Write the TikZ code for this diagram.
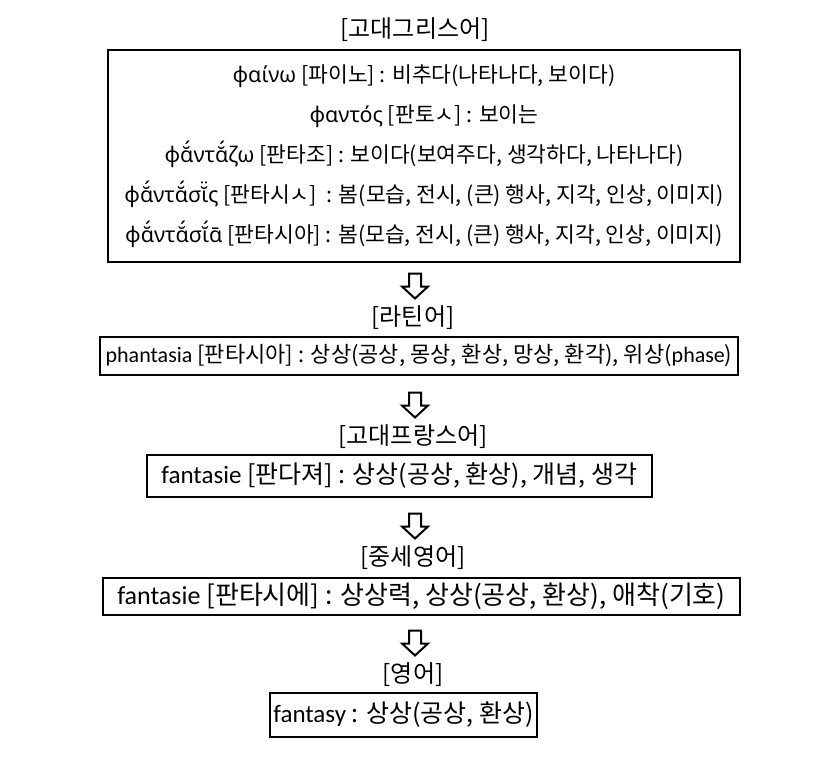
\documentclass[tikz,border=0pt]{standalone}
\usepackage{fontspec}
\setmainfont{Noto Sans CJK KR}
\newfontfamily\la{Carlito}
\newfontfamily\gr{Noto Sans}
\usetikzlibrary{calc,shadows}

\tikzset{
    stage/.style={font=\fontsize{24}{26}\selectfont},
    entry/.style={draw, line width=2.5pt, inner sep=2pt, fill=white,
        drop shadow={shadow xshift=1pt, shadow yshift=-1pt, fill=black!35, opacity=1}},
    blockarrow/.pic={
        \draw[line width=2pt, line join=miter, fill=white]
            (-6,-13) -- (6,-13) -- (6,0) -- (13,0) -- (0,12) -- (-13,0) -- (-6,0) -- cycle;
    }
}

\begin{document}
\begin{tikzpicture}[x=1pt, y=-1pt]
    \useasboundingbox (0,0) rectangle (831,773);

    % Altgriechisch
    \node[stage] (grk) at (415,30) {[고대그리스어]};
    \node[entry, minimum width=632pt, minimum height=212pt, align=center,
          font=\fontsize{21.5}{40}\selectfont] (box1) at (424,156) {%
        {\gr φαίνω} [파이노] : 비추다(나타나다, 보이다)\\
        {\gr φαντός} [판토ㅅ] : 보이는\\
        {\gr φᾰ́ντᾰ́ζω} [판타조] : 보이다(보여주다, 생각하다, 나타나다)\\
        {\gr φᾰ́ντᾰ́σῐ̈ς} [판타시ㅅ]\ \ : 봄(모습, 전시, (큰) 행사, 지각, 인상, 이미지)\\
        {\gr φᾰ́ντᾰ́σῐ́ᾱ} [판타시아] : 봄(모습, 전시, (큰) 행사, 지각, 인상, 이미지)};

    % Latein
    \node[stage] (lat) at (413,318) {[라틴어]};
    \node[entry, minimum width=638pt, minimum height=38pt,
          font=\fontsize{22}{24}\selectfont] (box2) at (419,356)
        {{\la phantasia} [판타시아] : 상상(공상, 몽상, 환상, 망상, 환각), 위상({\la phase})};

    % Altfranzoesisch
    \node[stage] (ofr) at (413,437) {[고대프랑스어]};
    \node[entry, minimum width=505pt, minimum height=42pt,
          font=\fontsize{25}{27}\selectfont] (box3) at (399.5,476)
        {{\la fantasie} [판다져] : 상상(공상, 환상), 개념, 생각};

    % Mittelenglisch
    \node[stage] (me) at (413,558) {[중세영어]};
    \node[entry, minimum width=637pt, minimum height=37pt, inner sep=0pt,
          font=\fontsize{26}{27}\selectfont] (box4) at (421.5,596.5)
        {{\la fantasie} [판타시에] : 상상력, 상상(공상, 환상), 애착(기호)};

    % Englisch
    \node[stage] (en) at (413,675) {[영어]};
    \node[entry, minimum width=267pt, minimum height=44pt,
          font=\fontsize{25}{27}\selectfont] (box5) at (403.5,715)
        {{\la fantasy} : 상상(공상, 환상)};

    % Pfeile
    \pic at ($(lat.north)+(2,-16)$) {blockarrow};
    \pic at ($(ofr.north)+(2,-16)$) {blockarrow};
    \pic at ($(me.north)+(2,-16)$) {blockarrow};
    \pic at ($(en.north)+(2,-16)$) {blockarrow};
\end{tikzpicture}
\end{document}
